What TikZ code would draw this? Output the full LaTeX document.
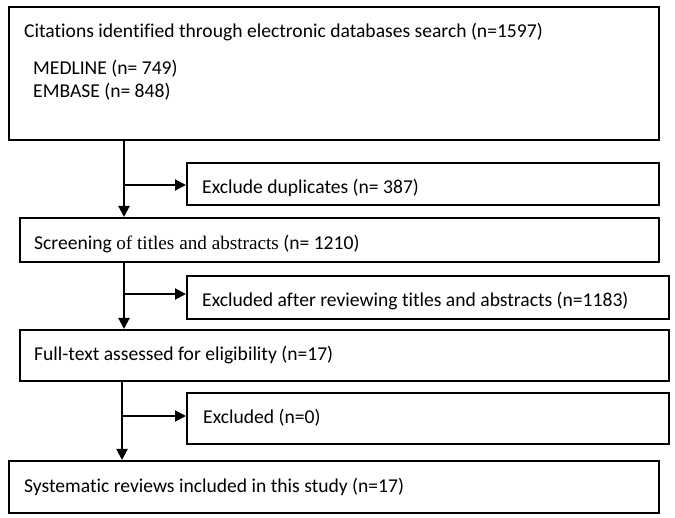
\documentclass[tikz,border=0pt]{standalone}
\usepackage{fontspec}
\setmainfont{Carlito}[Ligatures=NoCommon]
\newfontfamily\serifpart{Liberation Serif}[Ligatures=NoCommon]
\usetikzlibrary{arrows.meta}
\begin{document}
\begin{tikzpicture}[x=1pt,y=-1pt,
  box/.style={draw=black, line width=1.9pt, inner sep=0pt, anchor=north west},
  lbl/.style={anchor=base west, inner sep=0pt, font=\fontsize{19.6}{23}\selectfont},
  arr/.style={line width=1.9pt, -{Triangle[length=11pt,width=11pt]}}]
\useasboundingbox (0,0) rectangle (675,518);
% boxes
\node[box, minimum width=650pt, minimum height=133pt] (b1) at (8,6) {};
\node[box, minimum width=472pt, minimum height=42pt] (e1) at (186,162) {};
\node[box, minimum width=639pt, minimum height=44pt] (b2) at (19,217) {};
\node[box, minimum width=482pt, minimum height=43pt] (e2) at (186,275) {};
\node[box, minimum width=649pt, minimum height=51pt] (b3) at (19,329) {};
\node[box, minimum width=482pt, minimum height=51pt] (e3) at (186,392) {};
\node[box, minimum width=650pt, minimum height=52pt] (b4) at (8,460) {};
% labels
\node[lbl] (t1) at (24,38) {Citations identified through electronic databases search (n=1597)};
\node[lbl] (t1a) at (33,75) {MEDLINE (n= 749)};
\node[lbl] (t1b) at (33,98) {EMBASE (n= 848)};
\node[lbl] (te1) at (202,194) {Exclude duplicates (n= 387)};
\node[lbl] (t2) at (34,250) {Screening {\serifpart\fontsize{19.2}{23}\selectfont of titles and abstracts} (n= 1210)};
\node[lbl] (te2) at (202,307) {Excluded after reviewing titles and abstracts (n=1183)};
\node[lbl] (t3) at (34,361) {Full-text assessed for eligibility (n=17)};
\node[lbl] (te3) at (203,424) {Excluded (n=0)};
\node[lbl] (t4) at (24,493) {Systematic reviews included in this study (n=17)};
% junctions
\coordinate (j1) at (124,185);
\coordinate (j2) at (124,294);
\coordinate (j3) at (122,416);
% connectors
\draw[arr] (b1.south -| j1) -- (b2.north -| j1);
\draw[arr] (j1) -- (j1 -| e1.west);
\draw[arr] (b2.south -| j2) -- (b3.north -| j2);
\draw[arr] (j2) -- (j2 -| e2.west);
\draw[arr] (b3.south -| j3) -- (b4.north -| j3);
\draw[arr] (j3) -- (j3 -| e3.west);
\end{tikzpicture}
\end{document}
